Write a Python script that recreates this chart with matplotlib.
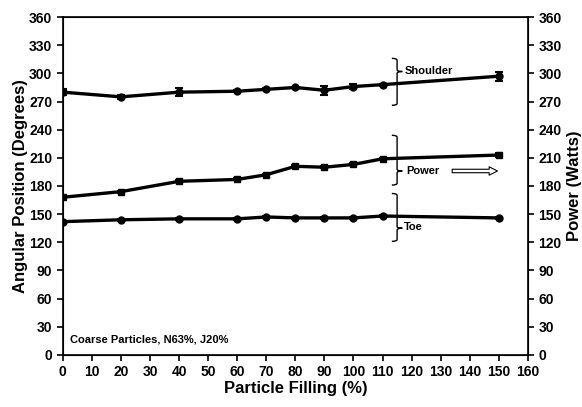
import numpy as np
import matplotlib.pyplot as plt
from matplotlib.path import Path
from matplotlib.patches import PathPatch

plt.rcParams['font.family'] = ['Liberation Sans', 'DejaVu Sans']
plt.rcParams['font.weight'] = 'bold'

# data
filling = [0, 20, 40, 60, 70, 80, 90, 100, 110, 150]
shoulder = [280, 275, 280, 281, 283, 285, 282, 286, 288, 297]
shoulder_err = [3, 2, 4, 1, 1, 1, 5, 3, 1, 5]
power = [168, 174, 185, 187, 192, 201, 200, 203, 209, 213]
power_err = [1, 1, 1, 1, 1, 1, 1, 1, 1, 2]
toe = [142, 144, 145, 145, 147, 146, 146, 146, 148, 146]
toe_err = [1, 1, 1, 1, 1, 1, 1, 1, 1, 1]

yticks = list(range(0, 361, 30))
xticks = list(range(0, 161, 10))


def brace(ax, x, y0, ym, y1, w=1.8):
    # right-facing curly brace from y0 (top) to y1 (bottom), tip at ym
    verts = [(x - w, y0), (x, y0), (x, y0 - 2), (x, ym + 2),
             (x, ym), (x + w, ym),
             (x + w, ym), (x, ym), (x, ym - 2),
             (x, y1 + 2), (x, y1), (x - w, y1)]
    codes = [Path.MOVETO, Path.CURVE3, Path.CURVE3, Path.LINETO,
             Path.CURVE3, Path.CURVE3,
             Path.MOVETO, Path.CURVE3, Path.CURVE3,
             Path.LINETO, Path.CURVE3, Path.CURVE3]
    ax.add_patch(PathPatch(Path(verts, codes), fc='none', ec='black', lw=1.0))


fig = plt.figure(figsize=(5.82, 4.07), dpi=100)
ax = fig.add_axes([0.108, 0.128, 0.799, 0.83])

for ys, err, mk in [(shoulder, shoulder_err, 'o'), (power, power_err, 's'), (toe, toe_err, 'o')]:
    ax.errorbar(filling, ys, yerr=err, color='black', lw=2.4, marker=mk, ms=5,
                capsize=3, elinewidth=1.5, capthick=1.5)

ax.set_xlim(0, 160)
ax.set_ylim(0, 360)
ax.set_xticks(xticks, labels=[str(v) for v in xticks], fontsize=10, fontweight='bold')
ax.set_yticks(yticks, labels=[str(v) for v in yticks], fontsize=10, fontweight='bold')
ax.tick_params(width=1.2, length=4)
for s in ax.spines.values():
    s.set_linewidth(1.2)
ax.set_xlabel('Particle Filling (%)', fontsize=12, fontweight='bold', labelpad=1)
ax.set_ylabel('Angular Position (Degrees)', fontsize=12, fontweight='bold', labelpad=1)

ax2 = ax.twinx()
ax2.set_ylim(0, 360)
ax2.set_yticks(yticks, labels=[str(v) for v in yticks], fontsize=10, fontweight='bold')
ax2.tick_params(width=1.2, length=4)
ax2.set_ylabel('Power (Watts)', fontsize=12, fontweight='bold', labelpad=4)

brace(ax, 115, 316, 302, 266)
brace(ax, 115, 234, 196, 181)
brace(ax, 115, 172, 135, 121)
ax.text(117.5, 303, 'Shoulder', fontsize=8, fontweight='bold', va='center')
ax.text(118, 196, 'Power', fontsize=8, fontweight='bold', va='center')
ax.text(117.5, 136, 'Toe', fontsize=8, fontweight='bold', va='center')
ax.annotate('', xy=(150.5, 196), xytext=(133, 196),
            arrowprops=dict(arrowstyle='simple,head_length=0.6,head_width=0.6,tail_width=0.25',
                            fc='white', ec='black', lw=0.8))
ax.text(2.5, 13, 'Coarse Particles, N63%, J20%', fontsize=8, fontweight='bold')

fig.savefig('out.png', dpi=100)
